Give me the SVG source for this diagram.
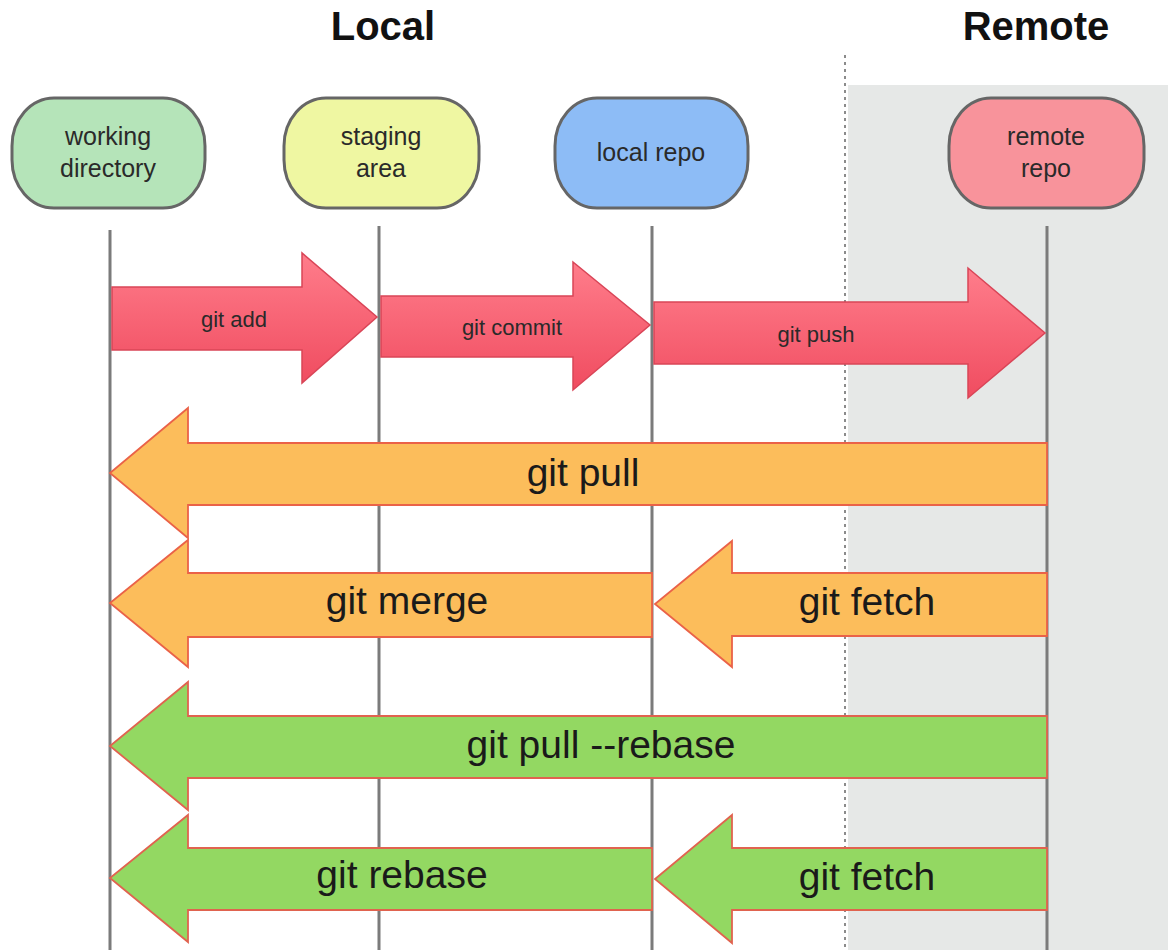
<svg xmlns="http://www.w3.org/2000/svg" width="1168" height="950" viewBox="0 0 1168 950">
<defs>
<linearGradient id="gRed" x1="0" y1="0" x2="0" y2="1">
<stop offset="0" stop-color="#ff7d8b"/>
<stop offset="1" stop-color="#f04c60"/>
</linearGradient>
<style>
.title{font-family:"Liberation Sans",Arial,sans-serif;font-weight:bold;font-size:40px;fill:#111;text-anchor:middle}
.node rect{stroke:#666;stroke-width:3}
.nlabel{font-family:"Liberation Sans",Arial,sans-serif;font-size:25px;fill:#2a2a2a;text-anchor:middle}
.life{stroke:#7b7b7b;stroke-width:3;fill:none}
.red{fill:url(#gRed);stroke:#d94557;stroke-width:1.5}
.orange{fill:#fcbd5b;stroke:#ea6248;stroke-width:1.8}
.green{fill:#93d862;stroke:#e0634f;stroke-width:1.8}
.slabel{font-family:"Liberation Sans",Arial,sans-serif;font-size:22px;fill:#2a2a2a;text-anchor:middle}
.blabel{font-family:"Liberation Sans",Arial,sans-serif;font-size:39px;fill:#1a1a1a;text-anchor:middle}
</style>
</defs>
<rect width="1168" height="950" fill="#ffffff"/>
<rect x="848" y="85" width="320" height="865" fill="#e6e8e7"/>
<line x1="845" y1="55" x2="845" y2="950" stroke="#666" stroke-width="1.5" stroke-dasharray="3,4"/>
<text class="title" x="383" y="40">Local</text>
<text class="title" x="1036" y="40">Remote</text>

<g id="lifelines">
<line class="life" x1="110" y1="230" x2="110" y2="950"/>
<line class="life" x1="379" y1="226" x2="379" y2="950"/>
<line class="life" x1="652" y1="226" x2="652" y2="950"/>
<line class="life" x1="1047" y1="226" x2="1047" y2="950"/>
</g>

<g id="working-directory" class="node">
<rect x="12" y="98" width="193" height="110" rx="42" ry="48" fill="#b5e4b9"/>
<text class="nlabel" x="108" y="145">working</text>
<text class="nlabel" x="108" y="177">directory</text>
</g>
<g id="staging-area" class="node">
<rect x="284" y="98" width="195" height="110" rx="42" ry="48" fill="#eff7a2"/>
<text class="nlabel" x="381" y="145">staging</text>
<text class="nlabel" x="381" y="177">area</text>
</g>
<g id="local-repo" class="node">
<rect x="555" y="98" width="193" height="110" rx="42" ry="48" fill="#8dbcf6"/>
<text class="nlabel" x="651" y="161">local repo</text>
</g>
<g id="remote-repo" class="node">
<rect x="949" y="98" width="195" height="110" rx="42" ry="48" fill="#f8939b"/>
<text class="nlabel" x="1046" y="145">remote</text>
<text class="nlabel" x="1046" y="177">repo</text>
</g>

<g id="connectors">
<g id="git-add">
<path class="red" d="M112,287 L302,287 L302,253 L377,317 L302,383 L302,350 L112,350 Z"/>
<text class="slabel" x="234" y="327">git add</text>
</g>
<g id="git-commit">
<path class="red" d="M381,296 L573,296 L573,262 L650,325 L573,390 L573,357 L381,357 Z"/>
<text class="slabel" x="512" y="335">git commit</text>
</g>
<g id="git-push">
<path class="red" d="M654,302 L968,302 L968,268 L1045,333 L968,398 L968,364 L654,364 Z"/>
<text class="slabel" x="816" y="342">git push</text>
</g>
<g id="git-pull">
<path class="orange" d="M1047,443 L188,443 L188,408 L110,473 L188,538 L188,505 L1047,505 Z"/>
<text class="blabel" x="583" y="486">git pull</text>
</g>
<g id="git-merge">
<path class="orange" d="M652,573 L188,573 L188,540 L110,603 L188,667 L188,637 L652,637 Z"/>
<text class="blabel" x="407" y="614">git merge</text>
</g>
<g id="git-fetch-1">
<path class="orange" d="M1047,573 L732,573 L732,541 L655,604 L732,667 L732,636 L1047,636 Z"/>
<text class="blabel" x="867" y="615">git fetch</text>
</g>
<g id="git-pull-rebase">
<path class="green" d="M1047,716 L188,716 L188,682 L110,746 L188,810 L188,778 L1047,778 Z"/>
<text class="blabel" x="601" y="758">git pull --rebase</text>
</g>
<g id="git-rebase">
<path class="green" d="M652,848 L188,848 L188,815 L110,878 L188,942 L188,910 L652,910 Z"/>
<text class="blabel" x="402" y="888">git rebase</text>
</g>
<g id="git-fetch-2">
<path class="green" d="M1047,848 L732,848 L732,815 L655,879 L732,943 L732,910 L1047,910 Z"/>
<text class="blabel" x="867" y="890">git fetch</text>
</g>
</g>
</svg>
